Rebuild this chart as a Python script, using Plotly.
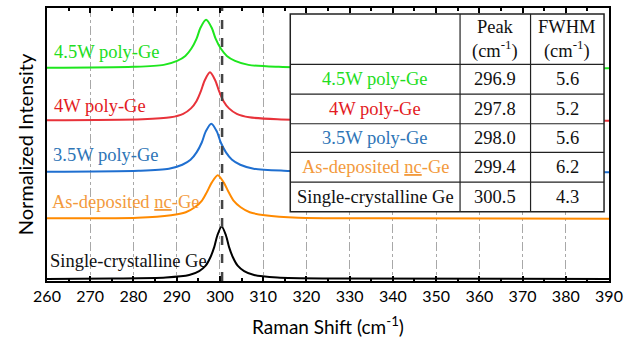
import plotly.graph_objects as go

# ---------------- data ----------------
names = ["4.5W poly-Ge", "4W poly-Ge", "3.5W poly-Ge", "As-deposited <u>nc</u>-Ge", "Single-crystalline Ge"]
peaks = ["296.9", "297.8", "298.0", "299.4", "300.5"]
fwhm = ["5.6", "5.2", "5.6", "6.2", "4.3"]
line_colors = ["#1ee61e", "#e8323a", "#1f6fd0", "#ff8a00", "#000000"]
text_colors = ["#22dd22", "#e31b23", "#2e75b6", "#f39a3c", "#111111"]

x_green = [260, 280.0, 287.0, 290.1, 292.0, 293.4, 294.6, 295.5, 296.8, 298.1, 299.0, 300.2, 301.6, 303.5, 306.6, 313.6, 330, 390]
y_green = [4.31, 4.33, 4.37, 4.45, 4.55, 4.70, 4.90, 5.12, 5.28, 5.12, 4.90, 4.70, 4.55, 4.45, 4.37, 4.33, 4.31, 4.30]

x_red = [260, 282.1, 288.6, 291.5, 293.3, 294.6, 295.6, 296.5, 297.7, 298.9, 299.8, 300.8, 302.1, 303.9, 306.8, 313.3, 328.9, 390]
y_red = [3.25, 3.27, 3.31, 3.38, 3.49, 3.64, 3.84, 4.06, 4.22, 4.06, 3.84, 3.64, 3.49, 3.38, 3.31, 3.27, 3.25, 3.24]

x_blue = [260, 281.2, 288.2, 291.3, 293.2, 294.6, 295.8, 296.7, 298.0, 299.3, 300.2, 301.4, 302.8, 304.7, 307.8, 314.8, 331.6, 390]
y_blue = [2.21, 2.23, 2.27, 2.35, 2.45, 2.60, 2.80, 3.02, 3.18, 3.02, 2.80, 2.60, 2.45, 2.35, 2.27, 2.23, 2.21, 2.20]

x_orange = [260, 280.9, 288.7, 292.1, 294.2, 295.8, 297.0, 298.1, 299.5, 300.9, 302.0, 303.2, 304.8, 306.9, 310.4, 318.1, 336.7, 390]
y_orange = [1.27, 1.28, 1.33, 1.39, 1.49, 1.62, 1.80, 1.99, 2.14, 1.99, 1.80, 1.62, 1.49, 1.39, 1.33, 1.28, 1.27, 1.26]

x_black = [260, 275, 287.5, 292.9, 295.2, 296.7, 297.8, 298.7, 299.4, 300.4, 301.4, 302.1, 303.0, 304.1, 305.6, 307.9, 313.3, 326.2, 390]
y_black = [0.04, 0.05, 0.07, 0.12, 0.20, 0.31, 0.48, 0.69, 0.92, 1.10, 0.92, 0.69, 0.48, 0.31, 0.20, 0.12, 0.07, 0.05, 0.04]

ref_line_x = 300.5
x_ticks = list(range(260, 391, 10))

xs = [x_green, x_red, x_blue, x_orange, x_black]
ys = [y_green, y_red, y_blue, y_orange, y_black]

# ---------------- figure ----------------
fig = go.Figure()
for xv, yv, c in zip(xs, ys, line_colors):
    fig.add_trace(go.Scatter(x=xv, y=yv, mode="lines", line=dict(color=c, width=2, shape="spline", smoothing=0.8),
                             hoverinfo="skip", showlegend=False))

fig.add_vline(x=ref_line_x, line=dict(color="#444444", width=2.5, dash="dash"))

serif = "Liberation Serif"
sans = "Lato"
FS = 18.5

# left labels
label_pos = [(261.1, 4.64), (261.1, 3.54), (260.9, 2.54), (260.7, 1.60), (260.2, 0.40)]
for (lx, ly), nm, tc in zip(label_pos, names, text_colors):
    fig.add_annotation(x=lx, y=ly, xref="x", yref="y", text=nm, showarrow=False, xanchor="left", yanchor="middle",
                       font=dict(family=serif, size=FS, color=tc))

# table (drawn over the plot)
W, H, L, B = 566.0, 276.0, 47.0, 282.0
def px(v):
    return (v - L) / W
def py(v):
    return (B - v) / H

tx0, tx1 = px(292), px(608)
ty0, ty1 = py(212), py(12)
fig.add_shape(type="rect", xref="paper", yref="paper", x0=tx0, x1=tx1, y0=ty0, y1=ty1,
              fillcolor="white", line=dict(color="#222222", width=1.5), layer="above")
for cx in [463, 534]:
    fig.add_shape(type="line", xref="paper", yref="paper", x0=px(cx), x1=px(cx), y0=ty0, y1=ty1,
                  line=dict(color="#222222", width=1.2), layer="above")
for ry in [63, 93, 123, 152, 182]:
    fig.add_shape(type="line", xref="paper", yref="paper", x0=tx0, x1=tx1, y0=py(ry), y1=py(ry),
                  line=dict(color="#222222", width=1.2), layer="above")

col_c = [px(377.5), px(498.5), px(571)]
hdr_font = dict(family=serif, size=FS, color="#111111")
fig.add_annotation(x=col_c[1], y=py(37.5), xref="paper", yref="paper", showarrow=False, xanchor="center",
                   yanchor="middle", text="Peak<br>(cm<sup>-1</sup>)", font=hdr_font)
fig.add_annotation(x=col_c[2], y=py(37.5), xref="paper", yref="paper", showarrow=False, xanchor="center",
                   yanchor="middle", text="FWHM<br>(cm<sup>-1</sup>)", font=hdr_font)
row_c = [78, 108, 137.5, 167, 197]
for rc, nm, pk, fw, tc in zip(row_c, names, peaks, fwhm, text_colors):
    for cx, txt, col in [(col_c[0], nm, tc), (col_c[1], pk, "#111111"), (col_c[2], fw, "#111111")]:
        fig.add_annotation(x=cx, y=py(rc), xref="paper", yref="paper", showarrow=False, text=txt,
                           xanchor="center", yanchor="middle",
                           font=dict(family=serif, size=FS, color=col))

fig.update_layout(
    width=629, height=341,
    margin=dict(l=47, r=16, t=6, b=59),
    paper_bgcolor="white", plot_bgcolor="white",
    showlegend=False,
    xaxis=dict(range=[260, 390], tickvals=x_ticks, ticks="inside", ticklen=5, tickwidth=1.5, tickcolor="black",
               minor=dict(ticks="inside", ticklen=3, tickcolor="black", dtick=5, showgrid=False),
               showline=True, linecolor="black", linewidth=2, mirror="ticks",
               showgrid=True, gridcolor="#a8a8a8", gridwidth=1, griddash="dashdot",
               tickfont=dict(family=sans, size=16, color="black"),
               title=dict(text="Raman Shift (cm<sup>-1</sup>)", font=dict(family=sans, size=19, color="black"), standoff=16),
               zeroline=False),
    yaxis=dict(range=[0, 5.52], showticklabels=False, ticks="", showgrid=False, zeroline=False,
               showline=True, linecolor="black", linewidth=2, mirror=True,
               title=dict(text="Normalized Intensity", font=dict(family=sans, size=20, color="black"), standoff=6)),
)

fig.write_html("out.html")
